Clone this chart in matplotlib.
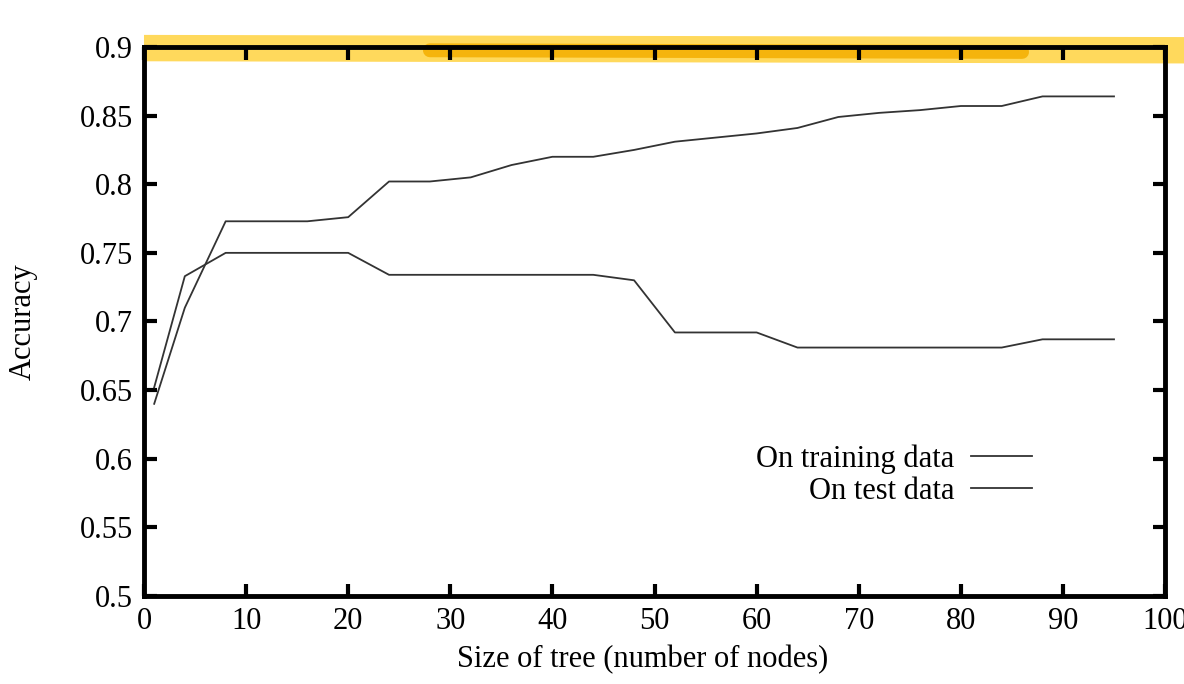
# Accuracy vs tree size (gnuplot-style recreation)

import numpy as np
import matplotlib.pyplot as plt

plt.rcParams['font.family'] = ['Liberation Serif', 'DejaVu Serif']

nodes = [1, 4, 8, 12, 16, 20, 24, 28, 32, 36, 40, 44, 48,
         52, 56, 60, 64, 68, 72, 76, 80, 84, 88, 92, 95]
train_acc = [0.640, 0.710, 0.773, 0.773, 0.773, 0.776, 0.802, 0.802, 0.805,
             0.814, 0.820, 0.820, 0.825, 0.831, 0.834, 0.837, 0.841, 0.849,
             0.852, 0.854, 0.857, 0.857, 0.864, 0.864, 0.864]
test_acc = [0.652, 0.733, 0.750, 0.750, 0.750, 0.750, 0.734, 0.734, 0.734,
            0.734, 0.734, 0.734, 0.730, 0.692, 0.692, 0.692, 0.681, 0.681,
            0.681, 0.681, 0.681, 0.681, 0.687, 0.687, 0.687]

xticks = np.arange(0, 101, 10)
yticks = [0.5, 0.55, 0.6, 0.65, 0.7, 0.75, 0.8, 0.85, 0.9]
yticklabels = ['0.5', '0.55', '0.6', '0.65', '0.7', '0.75', '0.8', '0.85', '0.9']

fig = plt.figure(figsize=(11.84, 6.84), dpi=100)
ax = fig.add_axes([0.1216, 0.1287, 0.8624, 0.8026])

# yellow highlighter stroke along the top
ax.plot([0.0, 1.03], [0.998, 0.994], transform=ax.transAxes, color='#FFD54A',
        lw=19, alpha=0.9, clip_on=False, solid_capstyle='butt', zorder=0)
ax.plot([0.28, 0.86], [0.994, 0.991], transform=ax.transAxes, color='#F4AE00',
        lw=10, alpha=0.85, clip_on=False, solid_capstyle='round', zorder=0)

ax.plot(nodes, train_acc, color='#333333', lw=1.3, label='On training data')
ax.plot(nodes, test_acc, color='#333333', lw=1.3, label='On test data')

ax.set_xlim(0, 100)
ax.set_ylim(0.5, 0.9)
ax.set_xticks(xticks)
ax.set_yticks(yticks)
ax.set_yticklabels(yticklabels)
ax.tick_params(direction='in', length=9, width=3, top=True, right=True,
               labelsize=22, pad=8)
for s in ax.spines.values():
    s.set_linewidth(3.5)

ax.set_xlabel('Size of tree (number of nodes)', fontsize=22)
ax.set_ylabel('Accuracy', fontsize=22)
ax.xaxis.set_label_coords(0.488, -0.09)
ax.yaxis.set_label_coords(-0.104, 0.5)

ax.legend(loc='center right', bbox_to_anchor=(0.87, 0.22), frameon=False,
          markerfirst=False, fontsize=22, handlelength=2.0,
          handletextpad=0.55, labelspacing=0.1, borderpad=0,
          borderaxespad=0)

fig.savefig('out.png', dpi=100)
